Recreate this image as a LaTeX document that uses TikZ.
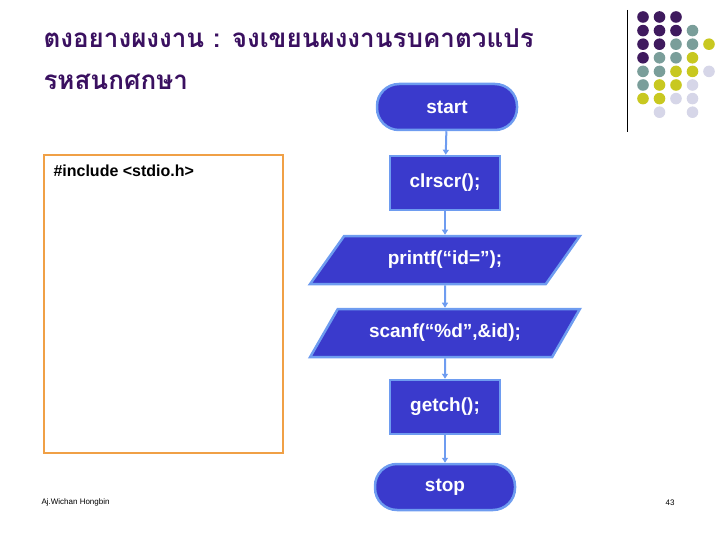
\documentclass[tikz,border=0pt]{standalone}
\usepackage{fontspec}
\setmainfont{Liberation Sans}
\newfontfamily\thaifont[Script=Thai]{Loma}
\usetikzlibrary{shapes.geometric,arrows.meta}
\definecolor{fb}{HTML}{3A3ACC}
\definecolor{eb}{HTML}{6E9CF0}
\definecolor{tp}{HTML}{3A1060}
\definecolor{dp}{HTML}{3F1A5E}
\definecolor{dt}{HTML}{7A9E9A}
\definecolor{dy}{HTML}{C8C820}
\definecolor{dl}{HTML}{D6D6E8}
\begin{document}
\begin{tikzpicture}[x=1pt,y=-1pt,
 fc/.style={fill=fb,draw=eb,line width=2.5pt,text=white,font=\bfseries\fontsize{19}{22}\selectfont},
 term/.style={fc,rounded corners=22pt,minimum width=140pt,minimum height=46pt},
 proc/.style={fc,minimum width=110pt,minimum height=54pt},
 io/.style={fc,trapezium,trapezium left angle=50,trapezium right angle=130,minimum width=270pt,minimum height=48pt,trapezium stretches=true},
 conn/.style={draw=eb,line width=2pt,-{Triangle[length=5pt,width=6pt]}}]
\useasboundingbox (0,0) rectangle (720,540);
\node[anchor=west,text=tp,font=\thaifont\bfseries\fontsize{26}{30}\selectfont] (t1) at (40,38) {ตงอยางผงงาน : จงเขยนผงงานรบคาตวแปร};
\node[anchor=west,text=tp,font=\thaifont\bfseries\fontsize{26}{30}\selectfont] (t2) at (40,82) {รหสนกศกษา};
\draw[line width=1pt] (627,10) -- (627,132);
\foreach \row/\cols in {0/{dp,dp,dp,,},1/{dp,dp,dp,dt,},2/{dp,dp,dt,dt,dy},3/{dp,dt,dt,dy,},4/{dt,dt,dy,dy,dl},5/{dt,dy,dy,dl,},6/{dy,dy,dl,dl,},7/{,dl,,dl,}}{
 \foreach \c [count=\i from 0] in \cols {\ifx\c\empty\else\fill[\c] (643+16.5*\i,17+13.6*\row) circle (5.8pt);\fi}}
\draw[draw={rgb,255:red,240;green,160;blue,70},line width=2pt] (44,155) rectangle (283,453);
\node[anchor=west,font=\bfseries\fontsize{16}{19}\selectfont] (inc) at (50,171) {\#include <stdio.h>};
\node[term] (s) at (447,107) {start};
\node[proc] (c) at (445,183) {clrscr();};
\node[io] (p) at (445,260) {printf(“id=”);};
\node[io] (sc) at (445,333) {scanf(“\%d”,\&id);};
\node[proc] (g) at (445,407) {getch();};
\node[term] (e) at (445,487) {stop};
\draw[conn] (s) -- (c);
\draw[conn] (c) -- (p);
\draw[conn] (p) -- (sc);
\draw[conn] (sc) -- (g);
\draw[conn] (g) -- (e);
\node[anchor=west,font=\fontsize{8}{10}\selectfont] (f) at (38,502) {Aj.Wichan Hongbin};
\node[font=\fontsize{8}{10}\selectfont] (n) at (670,503) {43};
\end{tikzpicture}
\end{document}
